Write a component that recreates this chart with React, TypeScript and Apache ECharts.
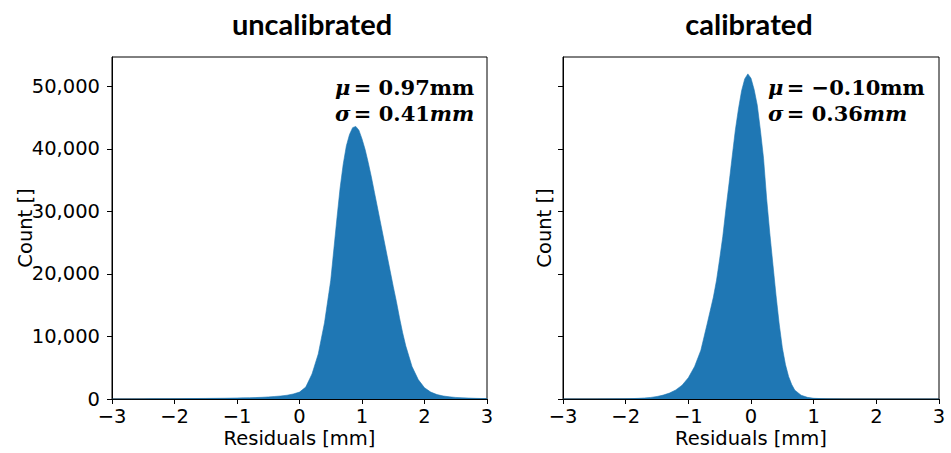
import React, { useEffect, useRef } from "react";
import * as echarts from "echarts";

// ---- data ----
const uncalX = [
  -3.0, -2.9, -2.8, -2.7, -2.6, -2.5, -2.4, -2.3, -2.2, -2.1, -2.0, -1.9, -1.8, -1.7, -1.6, -1.5, -1.4, -1.3,
  -1.2, -1.1, -1.0, -0.9, -0.8, -0.7, -0.6, -0.5, -0.4, -0.3, -0.2, -0.1, 0.0, 0.1, 0.2, 0.3, 0.4, 0.5, 0.55, 0.6,
  0.65, 0.7, 0.75, 0.8, 0.85, 0.9, 0.95, 1.0, 1.05, 1.1, 1.15, 1.2, 1.25, 1.3, 1.35, 1.4, 1.45, 1.5, 1.55, 1.6,
  1.65, 1.7, 1.8, 1.9, 2.0, 2.1, 2.2, 2.3, 2.4, 2.5, 2.6, 2.7, 2.8, 2.9, 3.0,
];
const uncalCounts = [
  0, 0, 10, 10, 15, 20, 25, 30, 35, 40, 50, 55, 60, 70, 80, 90, 100, 110,
  120, 140, 160, 180, 200, 230, 270, 330, 400, 480, 600, 800, 1100, 1900, 4000, 7200, 12200, 19000, 24000, 29000,
  33800, 37600, 40500, 42300, 43400, 43600, 43000, 41600, 39900, 37800, 35500, 33000, 30500, 28000, 25500, 23000, 20500, 18000, 15600, 13000,
  10600, 8500, 5200, 3100, 1800, 1100, 700, 480, 340, 250, 190, 150, 110, 80, 60,
];

const calX = [
  -3.0, -2.5, -2.0, -1.9, -1.8, -1.7, -1.6, -1.5, -1.4, -1.3, -1.2, -1.1, -1.0, -0.9, -0.8, -0.7, -0.6, -0.55,
  -0.5, -0.45, -0.4, -0.35, -0.3, -0.25, -0.2, -0.15, -0.1, -0.05, 0.0, 0.05, 0.1, 0.15, 0.2, 0.25, 0.3, 0.35,
  0.4, 0.45, 0.5, 0.55, 0.6, 0.65, 0.7, 0.8, 0.9, 1.0, 1.2, 1.5, 2.0, 3.0,
];
const calCounts = [
  0, 5, 40, 60, 100, 160, 250, 400, 620, 950, 1450, 2200, 3400, 5200, 7800, 12000, 16300, 19000,
  22400, 26000, 30400, 34500, 38800, 43000, 46400, 49300, 51200, 52000, 51300, 49500, 47000, 43000, 38500, 32000, 26500, 21500,
  16500, 12000, 8200, 5500, 3600, 2300, 1400, 600, 260, 110, 30, 5, 0, 0,
];

const xTicks = [-3, -2, -1, 0, 1, 2, 3];
const yTicks = [0, 10000, 20000, 30000, 40000, 50000];
const titles = ["uncalibrated", "calibrated"];
const muLabels = ["0.97mm", "\u22120.10mm"];
const sigmaLabels = ["0.41", "0.36"];

const BLUE = "#1f77b4";

export default function App() {
  const ref = useRef<HTMLDivElement>(null);
  useEffect(() => {
    if (!ref.current) return;
    const chart = echarts.init(ref.current, undefined, { renderer: "svg" });
    const grids = [
      { left: 112, top: 57, width: 375, height: 343 },
      { left: 563, top: 57, width: 376, height: 343 },
    ];
    const axisFont = { fontFamily: "DejaVu Sans", fontSize: 19.5, color: "#000" };
    const xAxes = grids.map((_, i) => ({
      type: "value",
      gridIndex: i,
      min: -3,
      max: 3,
      name: "Residuals [mm]",
      nameLocation: "middle",
      nameGap: 29,
      nameMoveOverlap: false,
      nameTextStyle: { ...axisFont },
      axisLine: { show: true, onZero: false, lineStyle: { color: "#000", width: 1 } },
      axisTick: { show: true, inside: false, length: 5, lineStyle: { color: "#000" }, customValues: xTicks },
      axisLabel: {
        ...axisFont,
        lineHeight: 14,
        margin: 10,
        customValues: xTicks,
        formatter: (v: number) => (v < 0 ? "\u2212" + Math.abs(v) : String(v)),
      },
      splitLine: { show: false },
    }));
    const yAxes = grids.map((_, i) => ({
      type: "value",
      gridIndex: i,
      min: 0,
      max: 54700,
      name: "Count []",
      nameLocation: "middle",
      nameGap: i === 0 ? 77 : 9,
      nameMoveOverlap: false,
      nameTextStyle: { ...axisFont },
      axisLine: { show: true, onZero: false, lineStyle: { color: "#000", width: 1 } },
      axisTick: { show: true, inside: false, length: 5, lineStyle: { color: "#000" }, customValues: yTicks },
      axisLabel: {
        show: i === 0,
        ...axisFont,
        lineHeight: 14,
        margin: 12,
        customValues: yTicks,
        formatter: (v: number) => v.toLocaleString("en-US"),
      },
      splitLine: { show: false },
    }));
    const mkSeries = (xs: number[], ys: number[], i: number) => ({
      type: "line",
      xAxisIndex: i,
      yAxisIndex: i,
      data: xs.map((x, k) => [x, ys[k]]),
      showSymbol: false,
      symbol: "none",
      smooth: false,
      lineStyle: { color: BLUE, width: 0.6 },
      areaStyle: { color: BLUE, opacity: 1 },
      z: 1,
    });
    const titleX = [312, 749];
    const annX = [335, 768];
    const rich = {
      i: { fontFamily: "DejaVu Serif", fontWeight: "bold", fontStyle: "italic", fontSize: 21, fill: "#000" },
      b: { fontFamily: "DejaVu Serif", fontWeight: "bold", fontSize: 21, fill: "#000" },
    };
    const graphics: any[] = [];
    titles.forEach((t, i) => {
      graphics.push({
        type: "text",
        x: titleX[i],
        y: 23,
        style: {
          text: t,
          fontFamily: "Lato",
          fontWeight: "bold",
          fontSize: 29,
          fill: "#000",
          align: "center",
          verticalAlign: "middle",
        },
      });
      graphics.push({
        type: "text",
        x: annX[i],
        y: 87,
        z: 10,
        style: { text: "{i|\u03bc} {b|= " + muLabels[i] + "}", rich, verticalAlign: "middle", align: "left" },
      });
      graphics.push({
        type: "text",
        x: annX[i],
        y: 113,
        z: 10,
        style: {
          text: "{i|\u03c3} {b|= " + sigmaLabels[i] + "}{i|mm}",
          rich,
          verticalAlign: "middle",
          align: "left",
        },
      });
    });
    chart.setOption({
      animation: false,
      backgroundColor: "#fff",
      grid: grids.map((g) => ({ ...g, show: true, borderColor: "#000", borderWidth: 1, backgroundColor: "transparent" })),
      xAxis: xAxes,
      yAxis: yAxes,
      series: [mkSeries(uncalX, uncalCounts, 0), mkSeries(calX, calCounts, 1)],
      graphic: graphics,
    });
    return () => chart.dispose();
  }, []);
  return (
    <div
      ref={ref}
      style={{ position: "fixed", left: 0, top: 0, width: 951, height: 453, background: "#fff" }}
    />
  );
}
